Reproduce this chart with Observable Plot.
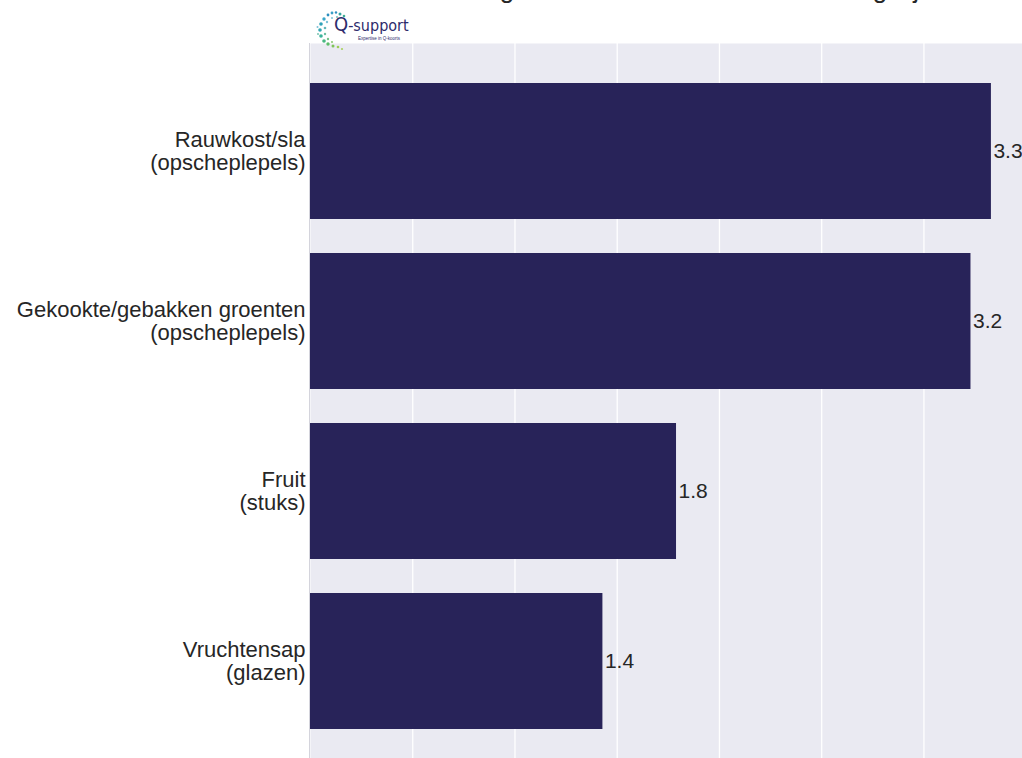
<!DOCTYPE html>
<html>
<head>
<meta charset="utf-8">
<script src="https://cdn.jsdelivr.net/npm/d3@7"></script>
<script src="https://cdn.jsdelivr.net/npm/@observablehq/plot@0.6"></script>
<style>
  html, body { margin: 0; padding: 0; background: #fff; overflow: hidden; width: 1022px; height: 758px; }
  #wrap { position: relative; width: 1022px; height: 758px; overflow: hidden; }
  #title { position: absolute; left: 205px; top: -24px; font: 26px/26px "Liberation Sans", Arial, sans-serif; color: #262626; white-space: nowrap; }
  #chart { position: absolute; left: 0; top: 0; }
  #logo { position: absolute; left: 316px; top: 10px; width: 100px; height: 42px; }
  #logo .name { position: absolute; left: 18px; top: 5px; font: 16px/19px "Liberation Sans Narrow", "DejaVu Sans Condensed", Arial, sans-serif; color: #2d2b6b; white-space: nowrap; }
  #logo .name b { font-weight: normal; font-size: 20px; }
  #logo .tag { position: absolute; left: 42px; top: 26px; font: 4.5px/5px "Liberation Sans", Arial, sans-serif; color: #2d2b6b; white-space: nowrap; }
</style>
</head>
<body>
<div id="wrap">
  <div id="title">Gemiddelde hoeveelheid groente en fruit die bewoners dagelijks eten</div>
  <div id="chart"></div>
  <div id="logo">
    <svg width="36" height="42" style="position:absolute;left:0;top:0">
      <circle cx="16" cy="3" r="1.4" fill="#3aa0c8"/><circle cx="20" cy="2.5" r="1.2" fill="#2f8fbf"/>
      <circle cx="24" cy="4" r="1.5" fill="#35a7a0"/><circle cx="12" cy="5" r="1.4" fill="#2d8fc0"/>
      <circle cx="28" cy="6" r="1.3" fill="#3fae94"/><circle cx="8" cy="9" r="1.7" fill="#3aa6c9"/>
      <circle cx="5" cy="14" r="1.8" fill="#2fa1b8"/><circle cx="4" cy="20" r="1.8" fill="#31a6b3"/>
      <circle cx="5" cy="26" r="1.8" fill="#3bb39a"/><circle cx="8" cy="31" r="1.8" fill="#49b783"/>
      <circle cx="12" cy="34" r="1.7" fill="#5cbd6a"/><circle cx="17" cy="36" r="1.5" fill="#7fc45a"/>
      <circle cx="22" cy="37" r="1.3" fill="#9ccd56"/><circle cx="26" cy="39" r="1.1" fill="#a9d160"/>
      <circle cx="11" cy="12" r="1.2" fill="#7cc0d8"/><circle cx="9" cy="18" r="1.3" fill="#62b6b8"/>
      <circle cx="9" cy="24" r="1.2" fill="#6cbfa0"/><circle cx="12" cy="29" r="1.2" fill="#76c28a"/>
      <circle cx="16" cy="8" r="1.1" fill="#86c9dc"/><circle cx="21" cy="7" r="1.0" fill="#6fc0c0"/>
      <circle cx="16" cy="32" r="1.1" fill="#8fcb78"/><circle cx="1.5" cy="17" r="1.0" fill="#7bbfd6"/>
      <circle cx="2" cy="24" r="1.0" fill="#78c4b0"/>
    </svg>
    <div class="name"><b>Q</b>-support</div>
    <div class="tag">Expertise in Q-koorts</div>
  </div>
</div>
<script>
// Data
const categories = [
  "Rauwkost/sla\n(opscheplepels)",
  "Gekookte/gebakken groenten\n(opscheplepels)",
  "Fruit\n(stuks)",
  "Vruchtensap\n(glazen)"
];
const values = [3.33, 3.23, 1.79, 1.43];
const valueLabels = ["3.3", "3.2", "1.8", "1.4"];
const gridTicks = [0.5, 1, 1.5, 2, 2.5, 3];

const data = categories.map((c, i) => ({cat: c, value: values[i], label: valueLabels[i]}));

const chart = Plot.plot({
  width: 1022,
  height: 758,
  marginTop: 43,
  marginBottom: 0,
  marginLeft: 310,
  marginRight: 0,
  style: {fontFamily: "'Liberation Sans', Arial, sans-serif", fontSize: "22px", background: "transparent", color: "#262626"},
  x: {domain: [0, 3.482], axis: null},
  y: {domain: categories, range: [65.5, 745.5], paddingInner: 0.2, paddingOuter: 0.1, label: null},
  marks: [
    Plot.frame({fill: "#EAEAF2", stroke: null}),
    Plot.gridX(gridTicks, {stroke: "#ffffff", strokeOpacity: 1, strokeWidth: 1.3}),
    Plot.ruleX([0], {stroke: "#d4d4dc", dx: -1}),
    Plot.barX(data, {x: "value", y: "cat", fill: "#282359"}),
    Plot.text(data, {x: "value", y: "cat", text: "label", textAnchor: "start", dx: 2, fontSize: 21, fill: "#262626"}),
    Plot.axisY({tickSize: 0, tickPadding: 5, fontSize: 22, lineHeight: 1.05, fill: "#262626", label: null})
  ]
});
document.getElementById("chart").appendChild(chart);
</script>
</body>
</html>
